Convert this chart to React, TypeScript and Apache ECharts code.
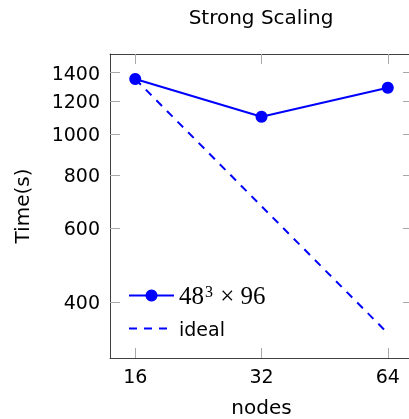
import React, { useEffect, useRef } from 'react';
import * as echarts from 'echarts';

const nodes = [16, 32, 64];
const measured = [1353, 1101, 1290];
const idealTimes = [1353, 676, 338];
const xTicks = [16, 32, 64];
const yTicks = [400, 600, 800, 1000, 1200, 1400];
const seriesNames = ['48³ × 96', 'ideal'];
const titleText = 'Strong Scaling';
const xName = 'nodes';
const yName = 'Time(s)';

export default function App() {
  const ref = useRef<HTMLDivElement>(null);
  useEffect(() => {
    const chart = echarts.init(ref.current!, null, { renderer: 'svg' });
    const font = 'DejaVu Sans';
    const xMin = 13.93, xMax = 73.5, yMin = 295.4, yMax = 1550.7;
    const tick = (vals: number[]) => ({
      show: true, inside: true, length: 10, customValues: vals,
      lineStyle: { color: '#a8a8a8', width: 1 },
    });
    const axisLine = { show: true, onZero: false, lineStyle: { color: '#404040', width: 1 } };
    const labelStyle = { fontFamily: font, fontSize: 19, color: '#000', formatter: (v: number) => String(Math.round(v)) };
    chart.setOption({
      animation: false,
      title: {
        text: titleText, left: 256, textAlign: 'center', top: 2,
        textStyle: { fontFamily: font, fontSize: 20, fontWeight: 'normal', color: '#000' },
      },
      grid: { left: 110, top: 54, width: 303, height: 304, containLabel: false, outerBoundsMode: 'none' },
      xAxis: [
        {
          type: 'log', logBase: 2, min: xMin, max: xMax, position: 'bottom',
          axisLine, axisTick: tick(xTicks), splitLine: { show: false },
          axisLabel: { ...labelStyle, margin: 8, customValues: xTicks },
          name: xName, nameLocation: 'middle', nameGap: 39,
          nameTextStyle: { fontFamily: font, fontSize: 20, color: '#000' },
        },
        {
          type: 'log', logBase: 2, min: xMin, max: xMax, position: 'top',
          axisLine, axisTick: tick(xTicks), splitLine: { show: false },
          axisLabel: { show: false },
        },
      ],
      yAxis: [
        {
          type: 'log', logBase: 10, min: yMin, max: yMax, position: 'left',
          axisLine, axisTick: tick(yTicks), splitLine: { show: false },
          axisLabel: { ...labelStyle, margin: 10, customValues: yTicks },
          name: yName, nameLocation: 'middle', nameGap: 78, nameRotate: 90,
          nameTextStyle: { fontFamily: font, fontSize: 20, color: '#000' },
        },
        {
          type: 'log', logBase: 10, min: yMin, max: yMax, position: 'right',
          axisLine, axisTick: tick(yTicks), splitLine: { show: false },
          axisLabel: { show: false },
        },
      ],
      legend: {
        orient: 'vertical', left: 123, top: 278, itemWidth: 45, itemHeight: 15, itemGap: 11,
        data: [
          { name: seriesNames[0] },
          { name: seriesNames[1], itemStyle: { color: 'rgba(0,0,0,0)', opacity: 0, borderWidth: 0 } },
        ],
        formatter: (n: string) => (n === seriesNames[0] ? `{m|48}{sup|3}{m| × 96}` : `{s|${n}}`),
        textStyle: {
          rich: {
            m: { fontFamily: 'Liberation Serif', fontSize: 25, color: '#000' },
            sup: { fontFamily: 'Liberation Serif', fontSize: 16, color: '#000', verticalAlign: 'top', padding: [0, 1, 0, 1] },
            s: { fontFamily: font, fontSize: 19, color: '#000' },
          },
        },
      },
      series: [
        {
          name: seriesNames[1], type: 'line', xAxisIndex: 0, yAxisIndex: 0,
          data: nodes.map((n, i) => [n, idealTimes[i]]),
          symbol: 'none', color: '#0000ff',
          lineStyle: { color: '#0000ff', width: 2, type: [8, 7] },
          z: 2,
        },
        {
          name: seriesNames[0], type: 'line', xAxisIndex: 0, yAxisIndex: 0,
          data: nodes.map((n, i) => [n, measured[i]]),
          symbol: 'circle', symbolSize: 12, color: '#0000ff',
          itemStyle: { color: '#0000ff' },
          lineStyle: { color: '#0000ff', width: 2 },
          z: 3,
        },
      ],
    });
    return () => chart.dispose();
  }, []);
  return (
    <div
      ref={ref}
      style={{ position: 'fixed', left: 0, top: 0, width: 409, height: 419 }}
    />
  );
}
